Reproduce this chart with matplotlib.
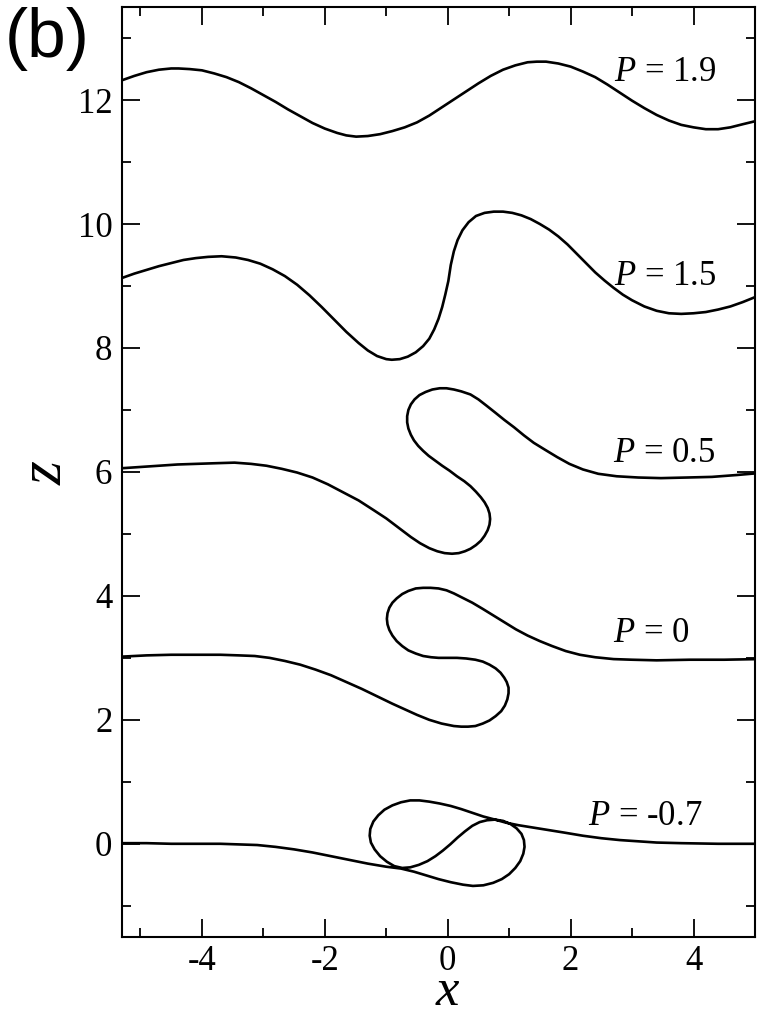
import matplotlib
matplotlib.use("Agg")
import matplotlib.pyplot as plt
from matplotlib.ticker import MultipleLocator

plt.rcParams['font.family'] = ['Liberation Serif', 'DejaVu Serif']
plt.rcParams['mathtext.fontset'] = 'custom'
plt.rcParams['mathtext.it'] = 'Liberation Serif:italic'
plt.rcParams['mathtext.rm'] = 'Liberation Serif'
plt.rcParams['axes.unicode_minus'] = False

# contour profiles z(x) for each P, traced in order along the curve
x_p19 = [-5.30, -5.10, -4.90, -4.70, -4.50, -4.38, -4.20, -4.00, -3.80, -3.60,
         -3.40, -3.20, -3.00, -2.80, -2.60, -2.40, -2.20, -2.00, -1.80, -1.65,
         -1.49, -1.30, -1.10, -0.90, -0.70, -0.50, -0.30, -0.10, 0.10, 0.30,
         0.50, 0.70, 0.90, 1.10, 1.30, 1.45, 1.60, 1.80, 2.00, 2.20,
         2.40, 2.60, 2.80, 3.00, 3.20, 3.40, 3.60, 3.80, 4.00, 4.20,
         4.40, 4.60, 4.80, 5.05]
z_p19 = [12.32, 12.39, 12.45, 12.49, 12.51, 12.51, 12.50, 12.48, 12.43, 12.37,
         12.29, 12.19, 12.08, 11.97, 11.85, 11.74, 11.63, 11.54, 11.47, 11.43,
         11.41, 11.42, 11.45, 11.50, 11.56, 11.64, 11.75, 11.88, 12.01, 12.14,
         12.27, 12.39, 12.49, 12.56, 12.61, 12.62, 12.62, 12.59, 12.54, 12.46,
         12.37, 12.25, 12.12, 11.99, 11.87, 11.76, 11.67, 11.60, 11.56, 11.53,
         11.53, 11.56, 11.61, 11.67]

x_p15 = [-5.30, -5.10, -4.90, -4.70, -4.50, -4.30, -4.10, -3.90, -3.68, -3.45,
         -3.25, -3.05, -2.85, -2.65, -2.45, -2.25, -2.05, -1.85, -1.65, -1.45,
         -1.30, -1.15, -1.00, -0.91, -0.78, -0.65, -0.52, -0.40, -0.30, -0.22,
         -0.15, -0.09, -0.04, 0.01, 0.05, 0.10, 0.16, 0.24, 0.34, 0.46,
         0.60, 0.75, 0.90, 1.05, 1.20, 1.35, 1.50, 1.65, 1.80, 1.95,
         2.10, 2.25, 2.40, 2.55, 2.70, 2.85, 3.00, 3.20, 3.40, 3.60,
         3.80, 4.00, 4.20, 4.40, 4.60, 4.80, 5.05]
z_p15 = [9.13, 9.20, 9.26, 9.32, 9.37, 9.42, 9.45, 9.47, 9.48, 9.46,
         9.42, 9.36, 9.27, 9.16, 9.02, 8.85, 8.66, 8.46, 8.26, 8.08,
         7.96, 7.87, 7.82, 7.81, 7.82, 7.86, 7.93, 8.03, 8.15, 8.30,
         8.47, 8.66, 8.86, 9.08, 9.34, 9.56, 9.74, 9.90, 10.03, 10.13,
         10.18, 10.20, 10.20, 10.18, 10.14, 10.08, 10.00, 9.91, 9.80, 9.67,
         9.52, 9.37, 9.22, 9.09, 8.97, 8.86, 8.77, 8.67, 8.60, 8.56,
         8.55, 8.56, 8.58, 8.62, 8.67, 8.74, 8.84]

x_p05 = [-5.30, -5.00, -4.70, -4.40, -4.10, -3.80, -3.47, -3.20, -2.95, -2.70,
         -2.45, -2.20, -1.95, -1.70, -1.45, -1.20, -1.00, -0.80, -0.60, -0.45,
         -0.30, -0.17, -0.05, 0.07, 0.18, 0.28, 0.37, 0.46, 0.54, 0.60,
         0.65, 0.68, 0.69, 0.68, 0.65, 0.60, 0.54, 0.46, 0.37, 0.27,
         0.15, 0.03, -0.09, -0.20, -0.31, -0.40, -0.48, -0.55, -0.60, -0.64,
         -0.66, -0.66, -0.64, -0.60, -0.54, -0.46, -0.36, -0.25, -0.13, -0.02,
         0.10, 0.22, 0.37, 0.50, 0.63, 0.77, 0.92, 1.08, 1.24, 1.40,
         1.58, 1.78, 1.98, 2.20, 2.45, 2.75, 3.10, 3.47, 3.90, 4.30,
         4.70, 5.05]
z_p05 = [6.06, 6.08, 6.10, 6.12, 6.13, 6.14, 6.15, 6.13, 6.10, 6.05,
         5.99, 5.91, 5.80, 5.67, 5.54, 5.38, 5.25, 5.10, 4.95, 4.85,
         4.77, 4.72, 4.69, 4.68, 4.69, 4.72, 4.76, 4.82, 4.89, 4.97,
         5.06, 5.15, 5.24, 5.33, 5.42, 5.51, 5.59, 5.68, 5.77, 5.85,
         5.93, 6.02, 6.10, 6.18, 6.26, 6.34, 6.42, 6.51, 6.60, 6.70,
         6.80, 6.90, 7.00, 7.09, 7.17, 7.24, 7.29, 7.33, 7.35, 7.35,
         7.33, 7.30, 7.25, 7.17, 7.07, 6.96, 6.84, 6.72, 6.59, 6.47,
         6.36, 6.24, 6.13, 6.04, 5.97, 5.93, 5.91, 5.90, 5.91, 5.92,
         5.95, 5.98]

x_p0 = [-5.30, -4.90, -4.50, -4.10, -3.70, -3.40, -3.14, -2.90, -2.65, -2.40,
        -2.15, -1.90, -1.65, -1.40, -1.15, -0.90, -0.70, -0.50, -0.30, -0.10,
        0.10, 0.22, 0.33, 0.45, 0.57, 0.68, 0.78, 0.87, 0.93, 0.97,
        0.99, 0.99, 0.96, 0.92, 0.86, 0.78, 0.68, 0.57, 0.45, 0.30,
        0.15, 0.00, -0.15, -0.27, -0.40, -0.52, -0.64, -0.74, -0.83, -0.90,
        -0.95, -0.98, -0.99, -0.98, -0.95, -0.90, -0.83, -0.74, -0.64, -0.52,
        -0.40, -0.28, -0.15, -0.02, 0.10, 0.24, 0.40, 0.57, 0.75, 0.93,
        1.11, 1.30, 1.50, 1.70, 1.92, 2.15, 2.40, 2.70, 3.00, 3.40,
        3.94, 4.50, 5.05]
z_p0 = [3.02, 3.04, 3.05, 3.05, 3.05, 3.04, 3.03, 3.00, 2.95, 2.89,
        2.81, 2.72, 2.61, 2.50, 2.38, 2.26, 2.17, 2.08, 2.00, 1.94,
        1.90, 1.89, 1.89, 1.90, 1.94, 1.99, 2.06, 2.14, 2.23, 2.33,
        2.43, 2.52, 2.61, 2.68, 2.76, 2.83, 2.89, 2.94, 2.97, 2.99,
        3.00, 3.00, 3.00, 3.01, 3.03, 3.07, 3.12, 3.19, 3.27, 3.36,
        3.45, 3.54, 3.63, 3.72, 3.81, 3.89, 3.96, 4.03, 4.08, 4.12,
        4.13, 4.13, 4.12, 4.09, 4.04, 3.97, 3.89, 3.79, 3.68, 3.57,
        3.46, 3.36, 3.27, 3.19, 3.11, 3.05, 3.01, 2.98, 2.97, 2.96,
        2.97, 2.97, 2.98]

x_pm07 = [-5.30, -4.90, -4.50, -4.10, -3.70, -3.40, -3.10, -2.80, -2.50, -2.20,
          -1.90, -1.60, -1.30, -1.00, -0.76, -0.55, -0.35, -0.15, 0.05, 0.25,
          0.41, 0.58, 0.74, 0.88, 1.00, 1.10, 1.18, 1.23, 1.25, 1.24,
          1.20, 1.12, 1.02, 0.90, 0.77, 0.64, 0.52, 0.40, 0.28, 0.16,
          0.04, -0.08, -0.20, -0.33, -0.47, -0.61, -0.74, -0.87, -0.99, -1.10,
          -1.19, -1.25, -1.27, -1.26, -1.21, -1.13, -1.03, -0.90, -0.76, -0.61,
          -0.46, -0.30, -0.13, 0.05, 0.22, 0.40, 0.58, 0.77, 0.95, 1.15,
          1.40, 1.65, 1.90, 2.20, 2.50, 2.80, 3.10, 3.40, 3.80, 4.40,
          5.05]
z_pm07 = [0.01, 0.01, 0.00, 0.00, 0.00, -0.01, -0.02, -0.05, -0.09, -0.14,
          -0.20, -0.26, -0.32, -0.37, -0.40, -0.45, -0.51, -0.57, -0.62, -0.66,
          -0.68, -0.67, -0.63, -0.57, -0.49, -0.39, -0.28, -0.16, -0.05, 0.06,
          0.16, 0.25, 0.32, 0.37, 0.39, 0.38, 0.35, 0.29, 0.20, 0.10,
          -0.01, -0.11, -0.20, -0.28, -0.34, -0.38, -0.39, -0.36, -0.29, -0.20,
          -0.09, 0.02, 0.13, 0.24, 0.36, 0.46, 0.55, 0.62, 0.67, 0.70,
          0.70, 0.68, 0.65, 0.61, 0.56, 0.50, 0.44, 0.39, 0.34, 0.30,
          0.26, 0.22, 0.18, 0.13, 0.09, 0.06, 0.04, 0.02, 0.01, 0.00,
          0.00]

labels = ["$P$ = 1.9", "$P$ = 1.5", "$P$ = 0.5", "$P$ = 0", "$P$ = -0.7"]
label_x = [2.70, 2.70, 2.69, 2.69, 2.28]
label_z = [12.45, 9.16, 6.29, 3.39, 0.44]

fig = plt.figure(figsize=(7.58, 10.16), dpi=100)
ax = fig.add_axes([0.161, 0.078, 0.835, 0.915])

for xs, zs in [(x_p19, z_p19), (x_p15, z_p15), (x_p05, z_p05),
               (x_p0, z_p0), (x_pm07, z_pm07)]:
    ax.plot(xs, zs, color='black', lw=1.9, solid_joinstyle='round')

for txt, lx, lz in zip(labels, label_x, label_z):
    ax.text(lx, lz, txt, fontsize=25, ha='left', va='center')

ax.set_xlim(-5.3, 5.0)
ax.set_ylim(-1.5, 13.5)
ax.xaxis.set_major_locator(MultipleLocator(2))
ax.xaxis.set_minor_locator(MultipleLocator(1))
ax.yaxis.set_major_locator(MultipleLocator(2))
ax.yaxis.set_minor_locator(MultipleLocator(1))
ax.tick_params(which='both', direction='in', top=True, right=True, width=1.3)
ax.tick_params(which='major', length=13)
ax.tick_params(which='minor', length=6.5)
ax.tick_params(axis='x', labelsize=25, pad=6)
ax.tick_params(axis='y', labelsize=25, pad=7)
for sp in ax.spines.values():
    sp.set_linewidth(1.5)

ax.set_xlabel("$x$", fontsize=38, va='baseline')
ax.xaxis.set_label_coords(0.515, -0.073)
ax.set_ylabel("$z$", fontsize=44, va='center')
ax.yaxis.set_label_coords(-0.12, 0.5)

fig.text(0.006, 0.993, "(b)", fontsize=50, family='Liberation Sans',
         ha='left', va='top')

fig.savefig("out.png", dpi=100)
